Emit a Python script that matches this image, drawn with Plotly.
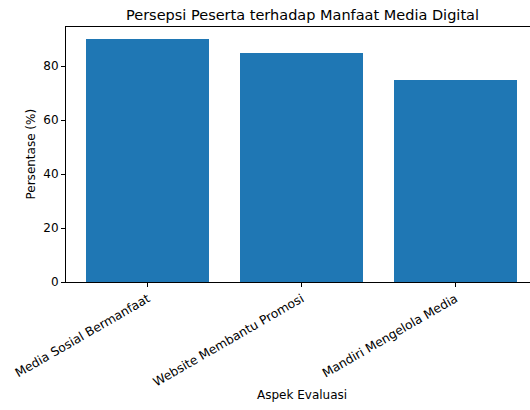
import plotly.graph_objects as go

categories = ["Media Sosial Bermanfaat", "Website Membantu Promosi", "Mandiri Mengelola Media"]
values = [90, 85, 75]
y_ticks = [0, 20, 40, 60, 80]

title = "Persepsi Peserta terhadap Manfaat Media Digital"
x_title = "Aspek Evaluasi"
y_title = "Persentase (%)"

font_family = "DejaVu Sans"

# plot area target in page pixels: x 66..530, y 27..281.7
fig = go.Figure(
    go.Bar(
        x=list(range(len(categories))),
        y=values,
        width=0.8,
        marker=dict(color="#1f77b4", line=dict(width=0)),
    )
)

fig.update_layout(
    width=530,
    height=410,
    margin=dict(l=66, r=0, t=27, b=128.3),
    paper_bgcolor="white",
    plot_bgcolor="white",
    showlegend=False,
    font=dict(family=font_family, color="black", size=12),
    bargap=0,
)

fig.update_xaxes(
    range=[-0.533, 2.484],
    tickmode="array",
    tickvals=list(range(len(categories))),
    ticktext=categories,
    tickangle=-30,
    ticks="outside",
    ticklen=4,
    tickwidth=1,
    tickcolor="black",
    showline=True,
    linecolor="black",
    linewidth=1,
    mirror=True,
    showgrid=False,
    zeroline=False,
    tickfont=dict(size=12.3),
)
fig.update_yaxes(
    range=[0, 94.5],
    tickmode="array",
    tickvals=y_ticks,
    ticks="outside",
    ticklen=4,
    tickwidth=1,
    tickcolor="black",
    showline=True,
    linecolor="black",
    linewidth=1,
    showgrid=False,
    zeroline=False,
    tickfont=dict(size=12),
)

plot_h = 410 - 27 - 128.3
fig.add_annotation(
    text=title, xref="paper", yref="paper",
    x=(302 - 66) / 464, y=1 + 12 / plot_h,
    xanchor="center", yanchor="middle", showarrow=False,
    font=dict(size=14.5, color="black", family=font_family),
)
fig.add_annotation(
    text=x_title, xref="paper", yref="paper",
    x=(302 - 66) / 464, y=(281.7 - 395) / plot_h,
    xanchor="center", yanchor="middle", showarrow=False,
    font=dict(size=12, color="black", family=font_family),
)
fig.add_annotation(
    text=y_title, xref="paper", yref="paper",
    x=(30 - 66) / 464, y=0.5, textangle=-90,
    xanchor="center", yanchor="middle", showarrow=False,
    font=dict(size=12, color="black", family=font_family),
)

fig.write_html(
    "out.html",
    config={"displayModeBar": False},
    post_script="document.body.style.margin='0';",
)
